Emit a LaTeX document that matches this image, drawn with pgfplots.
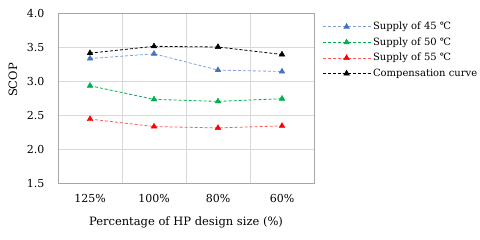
\documentclass[border=0pt]{standalone}
\usepackage{fontspec}
\setmainfont{DejaVu Serif}
\usepackage{pgfplots}
\pgfplotsset{compat=1.18}
\definecolor{cblue}{HTML}{4472C4}
\definecolor{cblueL}{HTML}{7FA0DA}
\definecolor{cgreen}{HTML}{00B050}
\definecolor{cred}{HTML}{FF0000}
\definecolor{credL}{HTML}{FF5A5A}
\definecolor{gridc}{HTML}{D9D9D9}
\definecolor{axc}{HTML}{A6A6A6}
\begin{document}
\begin{tikzpicture}
\useasboundingbox (0,0) rectangle (480pt,240pt);
\begin{axis}[
  at={(58pt,57pt)}, anchor=south west,
  scale only axis, width=256pt, height=170pt,
  xmin=-0.5, xmax=3.5, ymin=1.5, ymax=4,
  xtick={0,1,2,3}, xticklabels={125\%,100\%,80\%,60\%},
  minor xtick={0.5,1.5,2.5}, xminorgrids,
  ytick={1.5,2,2.5,3,3.5,4}, ymajorgrids,
  grid style={gridc, line width=0.6pt},
  minor grid style={gridc, line width=0.6pt},
  axis line style={axc, line width=0.8pt},
  tick style={draw=none},
  tick label style={font=\fontsize{11}{13}\selectfont},
  /pgf/number format/assume math mode=true,
  yticklabel style={/pgf/number format/fixed,/pgf/number format/fixed zerofill,/pgf/number format/precision=1, xshift=-10pt},
  xticklabel style={yshift=-8pt},
  xlabel={Percentage of HP design size (\%)},
  ylabel={SCOP},
  label style={font=\fontsize{11.5}{14}\selectfont},
  xlabel style={at={(axis description cs:0.5,0)}, anchor=center, yshift=-39pt},
  ylabel style={at={(axis description cs:0,0.606)}, anchor=center, yshift=45pt},
  legend cell align=left,
  legend style={at={(1,1)}, anchor=north west, xshift=5pt, yshift=-5pt, draw=none, fill=none, font=\fontsize{10}{12}\selectfont, row sep=2.5pt},
  legend image code/.code={\draw[mark repeat=2, mark phase=2, #1] plot coordinates {(0pt,0pt) (24pt,0pt) (48pt,0pt)};},
  every axis plot/.append style={line width=0.8pt, dash pattern=on 3pt off 2pt, mark size=3.3pt},
]
\addplot[cblueL, mark=triangle*, mark options={solid, fill=cblue, draw=cblue, line width=0.4pt}] coordinates {(0,3.33) (1,3.40) (2,3.16) (3,3.14)};
\addlegendentry{Supply of 45 ℃}
\addplot[cgreen, mark=triangle*, mark options={solid, fill=cgreen, draw=cgreen, line width=0.4pt}] coordinates {(0,2.93) (1,2.73) (2,2.70) (3,2.74)};
\addlegendentry{Supply of 50 ℃}
\addplot[credL, mark=triangle*, mark options={solid, fill=cred, draw=cred, line width=0.4pt}] coordinates {(0,2.44) (1,2.33) (2,2.31) (3,2.34)};
\addlegendentry{Supply of 55 ℃}
\addplot[black, mark=triangle*, mark options={solid, fill=black, draw=black, line width=0.4pt}] coordinates {(0,3.41) (1,3.51) (2,3.50) (3,3.39)};
\addlegendentry{Compensation curve}
\end{axis}
\end{tikzpicture}
\end{document}
